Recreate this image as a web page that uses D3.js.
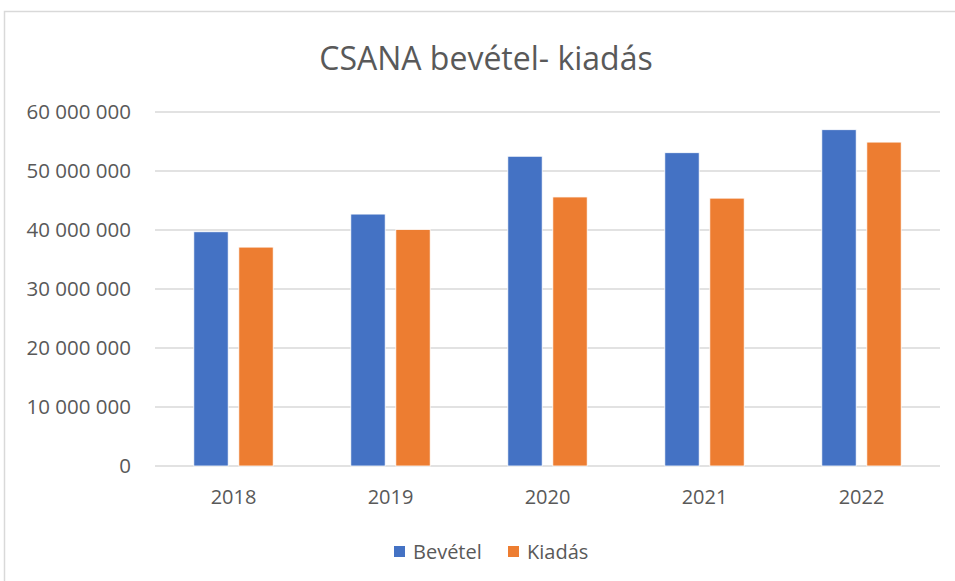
<!DOCTYPE html>
<html>
<head>
<meta charset="utf-8">
<script src="https://cdn.jsdelivr.net/npm/d3@7"></script>
<style>
  body { margin: 0; background: #fff; }
  svg text { font-family: "Open Sans", "Noto Sans", sans-serif; fill: #595959; }
</style>
</head>
<body>
<svg id="chart" width="955" height="581"></svg>
<script>
const years = ['2018', '2019', '2020', '2021', '2022'];
const seriesNames = ['Bevétel', 'Kiadás'];
const bevetel = [39700000, 42700000, 52500000, 53100000, 57000000];
const kiadas = [37100000, 40100000, 45600000, 45400000, 54900000];
const yTicks = [0, 10000000, 20000000, 30000000, 40000000, 50000000, 60000000];
const colors = ['#4472C4', '#ED7D31'];

const svg = d3.select('#chart');
const margin = { top: 112, right: 15, bottom: 115, left: 155 };
const width = 940 - margin.left;
const height = 466 - margin.top;

// chart frame
svg.append('rect')
  .attr('x', 4.5).attr('y', 11.5)
  .attr('width', 1000).attr('height', 1000)
  .attr('fill', 'none').attr('stroke', '#d9d9d9').attr('stroke-width', 1.5);

svg.append('text')
  .attr('x', 486).attr('y', 70)
  .attr('text-anchor', 'middle')
  .style('font-size', '32px')
  .text('CSANA bevétel- kiadás');

const g = svg.append('g')
  .attr('transform', 'translate(' + margin.left + ',' + margin.top + ')');

const x0 = d3.scaleBand().domain(years).range([0, width]);
const groupW = 79.4;
const x1 = d3.scaleBand().domain(seriesNames).range([0, groupW]).paddingInner(0.236);
const y = d3.scaleLinear().domain([0, 60000000]).range([height, 0]);

const loc = d3.formatLocale({ decimal: ',', thousands: '\u00a0', grouping: [3], currency: ['', ''] });
const fmt = loc.format(',d');

// gridlines
g.append('g')
  .selectAll('line')
  .data(yTicks)
  .enter().append('line')
  .attr('x1', 0).attr('x2', width)
  .attr('y1', d => y(d)).attr('y2', d => y(d))
  .attr('stroke', '#d9d9d9').attr('stroke-width', 1.5);

// y labels
g.append('g')
  .selectAll('text')
  .data(yTicks)
  .enter().append('text')
  .attr('x', -24).attr('y', d => y(d))
  .attr('dy', '0.35em')
  .attr('text-anchor', 'end')
  .style('font-size', '20.5px')
  .text(d => fmt(d));

// x labels
g.append('g')
  .selectAll('text')
  .data(years)
  .enter().append('text')
  .attr('x', d => x0(d) + x0.bandwidth() / 2)
  .attr('y', height + 38)
  .attr('text-anchor', 'middle')
  .style('font-size', '20px')
  .text(d => d);

const rows = years.map((yr, i) => ({ year: yr, values: [bevetel[i], kiadas[i]] }));
const groupOff = (x0.bandwidth() - groupW) / 2;

const grp = g.selectAll('.grp')
  .data(rows)
  .enter().append('g')
  .attr('class', 'grp')
  .attr('transform', d => 'translate(' + (x0(d.year) + groupOff) + ',0)');

grp.selectAll('rect')
  .data(d => d.values.map((v, i) => ({ key: seriesNames[i], value: v, i: i })))
  .enter().append('rect')
  .attr('x', d => x1(d.key))
  .attr('y', d => y(d.value))
  .attr('width', x1.bandwidth())
  .attr('height', d => height - y(d.value))
  .attr('fill', d => colors[d.i])
  .attr('stroke', '#fff').attr('stroke-width', 0.8);

// legend
const legend = svg.append('g').attr('transform', 'translate(394,546)');
const legX = [0, 114];
seriesNames.forEach((name, i) => {
  legend.append('rect')
    .attr('x', legX[i]).attr('y', 0)
    .attr('width', 11).attr('height', 11)
    .attr('fill', colors[i]);
  legend.append('text')
    .attr('x', legX[i] + 19).attr('y', 5.5)
    .attr('dy', '0.35em')
    .style('font-size', '20px')
    .text(name);
});
</script>
</body>
</html>
